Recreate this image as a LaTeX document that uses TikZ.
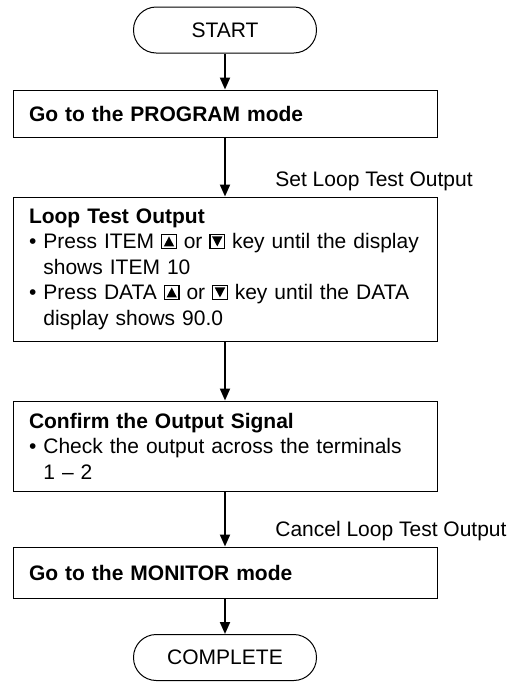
\documentclass[tikz,border=0pt]{standalone}
\usepackage{fontspec}
\setmainfont{Liberation Sans}
\usepackage{tikz}
\usetikzlibrary{arrows.meta}
\newcommand{\upkey}{\tikz[baseline=0pt]{\draw[line width=0.6pt] (0,0) rectangle (7.2pt,7.2pt); \fill[black] (1pt,1.1pt) -- (6.2pt,1.1pt) -- (3.6pt,6.1pt) -- cycle;}}
\newcommand{\downkey}{\tikz[baseline=0pt]{\draw[line width=0.6pt] (0,0) rectangle (7.2pt,7.2pt); \fill[black] (1pt,6.1pt) -- (6.2pt,6.1pt) -- (3.6pt,1.1pt) -- cycle;}}
\newcommand{\ind}{\phantom{\textbullet\ }}
\tikzset{
	txt/.style={font=\fontsize{10.5}{12.75}\selectfont},
	term/.style={txt, draw, line width=0.5pt, rounded corners=11.4pt,
		minimum width=91.5pt, minimum height=23pt, inner sep=0pt},
	stepbox/.style={txt, draw, line width=0.5pt, text width=196pt,
		inner xsep=8pt, inner ysep=0pt, align=left},
	note/.style={txt, anchor=west, inner sep=0pt},
	arr/.style={line width=1pt, -{Triangle[width=5pt,length=6pt]}},
}

\begin{document}
\begin{tikzpicture}[x=0.5pt, y=-0.5pt]
	\useasboundingbox (0,0) rectangle (520,682);
	\node[term] at (225,30) (start) {START};
	\node[stepbox, minimum height=23.5pt] at (225,113.5) (prog) {\bfseries Go to the PROGRAM mode};
	\node[stepbox, minimum height=72pt] at (225,269) (loop) {{\bfseries Loop Test Output}\\
		\textbullet\ Press ITEM \upkey{} or \downkey{} key until the display\\
		\ind shows ITEM 10\\
		\textbullet\ Press DATA \upkey{} or \downkey{} key until the DATA\\
		\ind display shows 90.0};
	\node[stepbox, minimum height=45pt] at (225,446) (conf) {{\bfseries Confirm the Output Signal}\\
		\textbullet\ Check the output across the terminals\\
		\ind 1 -- 2};
	\node[stepbox, minimum height=25.5pt] at (225,572.5) (mon) {\bfseries Go to the MONITOR mode};
	\node[term] at (225,657.5) (done) {COMPLETE};
	\node[note] at (275,181) (setlbl) {Set Loop Test Output};
	\node[note] at (275,531) (canlbl) {Cancel Loop Test Output};
	\draw[arr] (start) -- (prog);
	\draw[arr] (prog) -- (loop);
	\draw[arr] (loop) -- (conf);
	\draw[arr] (conf) -- (mon);
	\draw[arr] (mon) -- (done);
\end{tikzpicture}
\end{document}
